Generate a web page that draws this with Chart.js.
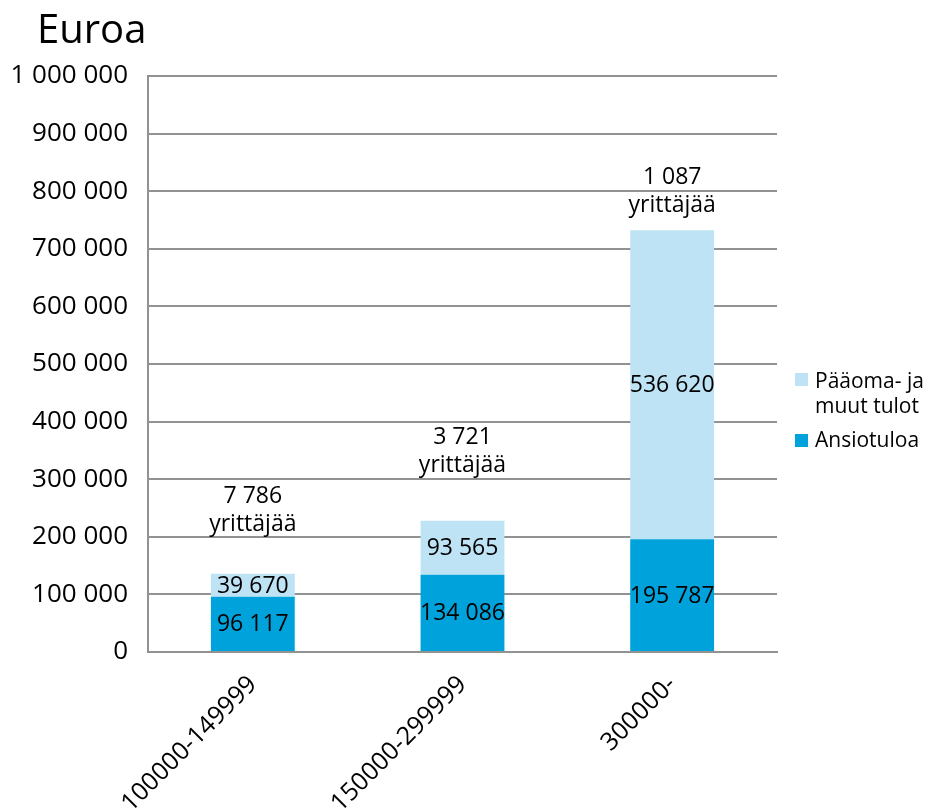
<!DOCTYPE html>
<html>
<head>
<meta charset="utf-8">
<script src="https://cdn.jsdelivr.net/npm/chart.js@4/dist/chart.umd.min.js"></script>
<style>
html,body{margin:0;padding:0;background:#fff;}
#wrap{width:938px;height:809px;position:relative;}
</style>
</head>
<body>
<div id="wrap"><canvas id="c" width="938" height="809"></canvas></div>
<script>
const categories = ['100000-149999', '150000-299999', '300000-'];
const earnedIncome = [96117, 134086, 195787];          // Ansiotuloa
const capitalIncome = [39670, 93565, 536620];          // Pääoma- ja muut tulot
const entrepreneurs = [7786, 3721, 1087];              // yrittäjää
const seriesNames = ['Ansiotuloa', ['Pääoma- ja', 'muut tulot']];
const yTicks = [0, 100000, 200000, 300000, 400000, 500000, 600000, 700000, 800000, 900000, 1000000];
const titleText = 'Euroa';
const noteWord = 'yrittäjää';

const FONT = '"Open Sans", sans-serif';
const DARK = '#00A2DB';
const LIGHT = '#BEE3F5';
const GRID = '#929292';

function fmt(v) {
  return String(Math.round(v)).replace(/\B(?=(\d{3})+(?!\d))/g, ' ');
}

const overlayPlugin = {
  id: 'overlay',
  afterDatasetsDraw(chart, args, opts) {
    const ctx = chart.ctx;
    const area = chart.chartArea;
    ctx.save();
    // title
    ctx.fillStyle = '#000';
    ctx.font = '40px ' + FONT;
    ctx.textAlign = 'left';
    ctx.textBaseline = 'alphabetic';
    ctx.fillText(titleText, 37, 43);

    // segment value labels
    ctx.font = '23px ' + FONT;
    ctx.textAlign = 'center';
    ctx.textBaseline = 'middle';
    chart.data.datasets.forEach((ds, di) => {
      const meta = chart.getDatasetMeta(di);
      meta.data.forEach((bar, i) => {
        const p = bar.getProps(['x', 'y', 'base'], true);
        ctx.fillText(fmt(ds.data[i]), p.x, (p.y + p.base) / 2 + 1);
      });
    });

    // entrepreneur count notes above bars
    const topMeta = chart.getDatasetMeta(1);
    ctx.textBaseline = 'alphabetic';
    topMeta.data.forEach((bar, i) => {
      const p = bar.getProps(['x', 'y'], true);
      const base2 = p.y - opts.noteGap[i];
      ctx.fillText(fmt(entrepreneurs[i]), p.x, base2 - 28);
      ctx.fillText(noteWord, p.x, base2);
    });

    // legend
    const lx = area.right + 18;
    ctx.textAlign = 'left';
    ctx.font = '21px ' + FONT;
    ctx.fillStyle = LIGHT;
    ctx.fillRect(lx, 373, 13, 13);
    ctx.fillStyle = '#000';
    ctx.fillText(seriesNames[1][0], lx + 20, 388);
    ctx.fillText(seriesNames[1][1], lx + 20, 413);
    ctx.fillStyle = DARK;
    ctx.fillRect(lx, 434, 13, 13);
    ctx.fillStyle = '#000';
    ctx.fillText(seriesNames[0], lx + 20, 447);
    ctx.restore();
  }
};

new Chart(document.getElementById('c'), {
  type: 'bar',
  data: {
    labels: categories,
    datasets: [
      { label: seriesNames[0], data: earnedIncome, backgroundColor: DARK, borderWidth: 0 },
      { label: seriesNames[1].join(' '), data: capitalIncome, backgroundColor: LIGHT, borderWidth: 0 }
    ]
  },
  options: {
    responsive: false,
    animation: false,
    devicePixelRatio: 1,
    layout: { padding: { left: 0, right: 161, top: 76, bottom: 0 } },
    datasets: { bar: { categoryPercentage: 1.0, barPercentage: 0.4 } },
    plugins: {
      legend: { display: false },
      title: { display: false },
      tooltip: { enabled: false },
      overlay: { noteGap: [43, 49, 18] }
    },
    scales: {
      x: {
        stacked: true,
        afterFit(s) { s.height = 157; },
        grid: { display: false, drawTicks: false, tickLength: 0 },
        border: { display: true, color: GRID, width: 2 },
        ticks: {
          color: '#000',
          font: { family: FONT, size: 25 },
          minRotation: 45, maxRotation: 45,
          autoSkip: false,
          padding: 18
        }
      },
      y: {
        stacked: true,
        min: 0, max: 1000000,
        afterFit(s) { s.width = 148; },
        afterBuildTicks(s) { s.ticks = yTicks.map(v => ({ value: v })); },
        grid: { color: GRID, lineWidth: 2, drawTicks: false, tickLength: 0 },
        border: { display: true, color: GRID, width: 2 },
        ticks: {
          color: '#000',
          font: { family: FONT, size: 26 },
          padding: 20,
          callback: v => fmt(v)
        }
      }
    }
  },
  plugins: [overlayPlugin]
});
</script>
</body>
</html>
